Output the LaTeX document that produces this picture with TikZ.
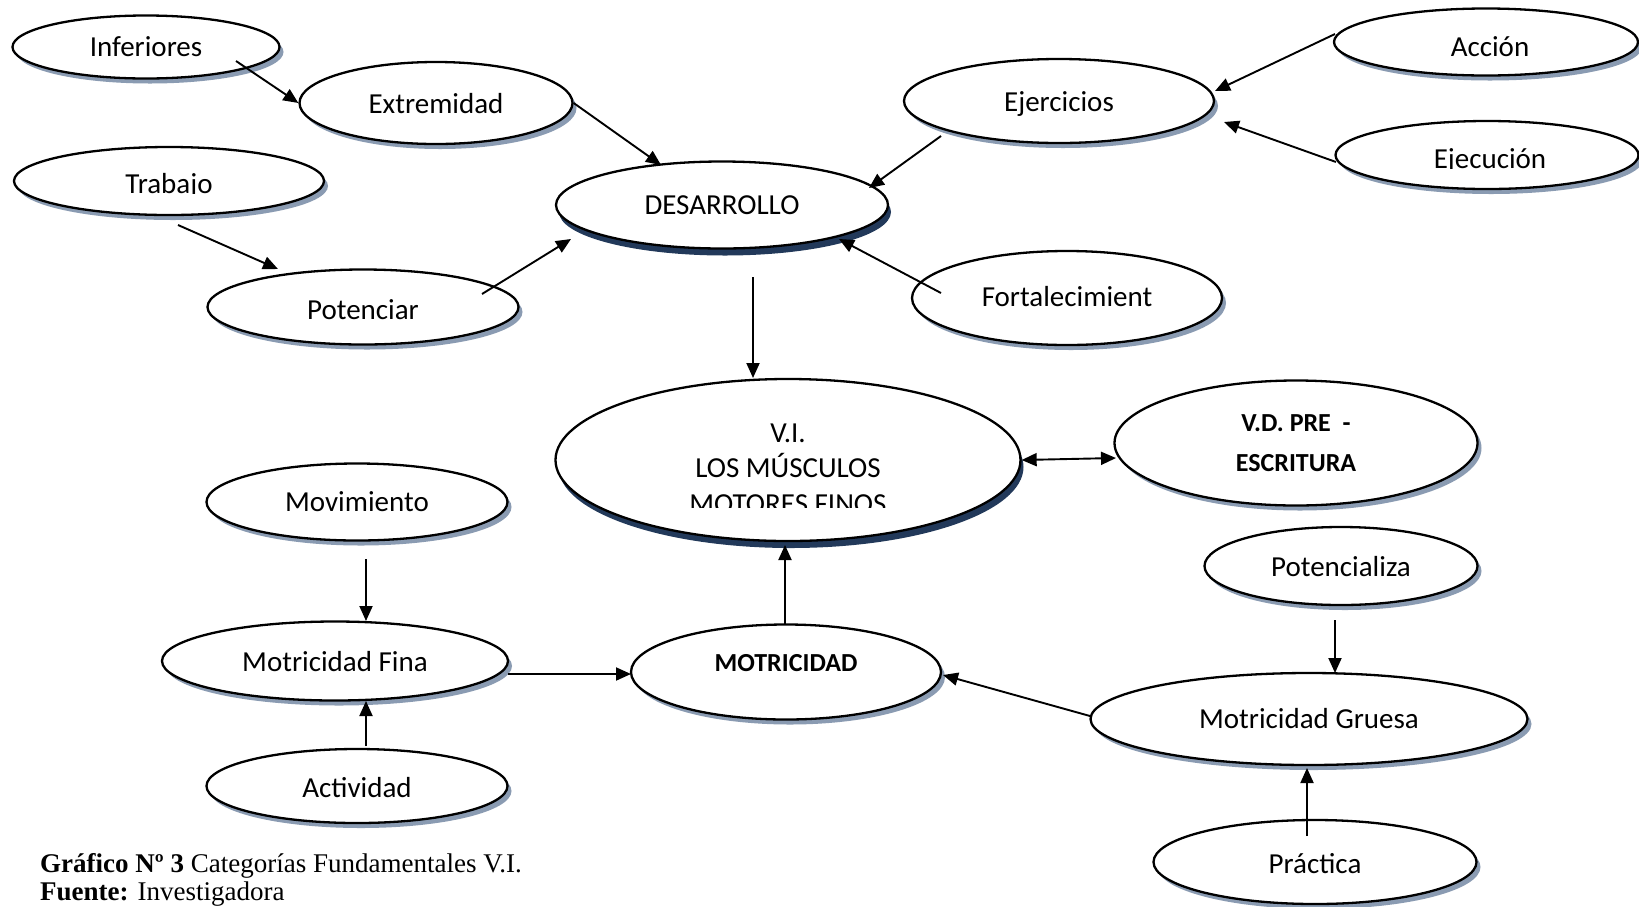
\documentclass[tikz,border=0pt]{standalone}
\usepackage{fontspec}
\setmainfont{Carlito}
\newfontfamily\capfont{Liberation Serif}
\usetikzlibrary{shapes.geometric,arrows.meta,shadows}
\definecolor{shadl}{HTML}{8A9BB2}
\definecolor{shadd}{HTML}{22395A}
\newcommand{\dn}[2]{\raisebox{-#1}[\height][\depth]{#2}}
\tikzset{
  ovbase/.style={ellipse, draw, line width=2.3pt, fill=white, inner sep=0pt,
    font=\fontsize{29}{35}\selectfont, align=center},
  oval/.style={ovbase, drop shadow={shadow xshift=4pt, shadow yshift=-5pt, fill=shadl, opacity=1}},
  ovald/.style={ovbase, drop shadow={shadow xshift=3pt, shadow yshift=-7pt, fill=shadd, opacity=1}},
  lbl/.style={font=\fontsize{29}{35}\selectfont, inner sep=0pt, anchor=base},
  blbl/.style={font=\fontsize{26}{38}\selectfont\bfseries, inner sep=0pt},
  arr/.style={line width=1.9pt, -{Triangle[length=15pt,width=13pt]}},
  darr/.style={line width=1.9pt, {Triangle[length=15pt,width=13pt]}-{Triangle[length=15pt,width=13pt]}},
  captxt/.style={font=\capfont\fontsize{27}{29}\selectfont, inner sep=0pt, anchor=base west}
}
\begin{document}
\begin{tikzpicture}[x=1pt,y=-1pt]
\useasboundingbox[fill=white] (0,0) rectangle (1639,906);

% nodes
\node[oval, minimum width=267pt, minimum height=63pt] (inf) at (146,47) {};
\node[oval, minimum width=273pt, minimum height=82pt] (ext) at (436,103) {\dn{1pt}{Extremidad}};
\node[oval, minimum width=310pt, minimum height=68pt] (trab) at (169,181) {};
\node[oval, minimum width=311pt, minimum height=75pt] (pot) at (363,307) {\dn{3pt}{Potenciar}};
\node[ovald, minimum width=332pt, minimum height=87pt] (des) at (722,205) {DESARROLLO};
\node[oval, minimum width=310pt, minimum height=84pt] (ej) at (1059,101) {\dn{3pt}{Ejercicios}};
\node[oval, minimum width=304pt, minimum height=67pt] (acc) at (1486,42) {};
\node[oval, minimum width=303pt, minimum height=68pt] (ejec) at (1487,155) {};
\node[oval, minimum width=310pt, minimum height=94pt] (fort) at (1067,298) {\dn{-1pt}{Fortalecimient}};
\node[ovald, minimum width=465pt, minimum height=162pt] (vi) at (788,460) {};
\node[oval, minimum width=363pt, minimum height=125pt] (vd) at (1296,443)
  {\bfseries\fontsize{26}{38}\selectfont V.D. PRE\ \ -\\[5pt]\bfseries\fontsize{26}{38}\selectfont ESCRITURA};
\node[oval, minimum width=301pt, minimum height=77pt] (mov) at (357,502) {Movimiento};
\node[oval, minimum width=346pt, minimum height=79pt] (mf) at (335,661) {\dn{1pt}{Motricidad Fina}};
\node[oval, minimum width=310pt, minimum height=95pt] (mot) at (786,672) {};
\node[oval, minimum width=273pt, minimum height=78pt] (potz) at (1341,566) {\dn{1pt}{Potencializa}};
\node[oval, minimum width=437pt, minimum height=92pt] (mg) at (1309,719) {Motricidad Gruesa};
\node[oval, minimum width=301pt, minimum height=74pt] (act) at (357,786) {\dn{2pt}{Actividad}};
\node[oval, minimum width=323pt, minimum height=84pt] (prac) at (1315,862) {\dn{2pt}{Práctica}};

% labels (some cut off at the baseline as in the picture)
\begin{scope}
  \clip (0,0) rectangle (1639,56.5);
  \node[lbl] (tinf) at (146,56) {Inferiores};
\end{scope}
\begin{scope}
  \clip (0,100) rectangle (1639,193.5);
  \node[lbl] (ttrab) at (169,193) {Trabajo};
\end{scope}
\node[lbl] (tacc) at (1490,56) {Acción};
\begin{scope}
  \clip (1300,100) rectangle (1639,168.5);
  \node[lbl] (tejec) at (1490,168) {Ejecución};
\end{scope}
\begin{scope}
  \clip (500,380) rectangle (1100,507);
  \node[lbl] (tvi1) at (788,442) {V.I.};
  \node[lbl] (tvi2) at (788,477) {LOS MÚSCULOS};
  \node[lbl] (tvi3) at (788,513) {MOTORES FINOS};
\end{scope}
\node[blbl] (tmot) at (786,663) {MOTRICIDAD};

% connectors
\draw[arr] ([shift={(90,14)}]inf.center) -- (ext.west);
\draw[arr] (ext.east) -- ([shift={(-61,-40)}]des.center);
\draw[arr] ([shift={(9,44)}]trab.center) -- ([shift={(-85,-38)}]pot.center);
\draw[arr] ([shift={(119,-13)}]pot.center) -- ([shift={(-151,34)}]des.center);
\draw[arr] ([shift={(-118,35)}]ej.center) -- ([shift={(147,-17)}]des.center);
\draw[arr] ([shift={(-151,-8)}]acc.center) -- ([shift={(156,-10)}]ej.center);
\draw[arr] ([shift={(-151,7)}]ejec.center) -- ([shift={(165,21)}]ej.center);
\draw[arr] ([shift={(-126,-5)}]fort.center) -- ([shift={(117,34)}]des.center);
\draw[arr] ([shift={(31,72)}]des.center) -- ([shift={(-35,-82)}]vi.center);
\draw[darr] (vi.east) -- ([shift={(-180,15)}]vd.center);
\draw[arr] ([shift={(9,57)}]mov.center) -- ([shift={(31,-40)}]mf.center);
\draw[arr] ([shift={(9,-40)}]act.center) -- ([shift={(31,40)}]mf.center);
\draw[arr] ([shift={(173,13)}]mf.center) -- ([shift={(-155,2)}]mot.center);
\draw[arr] ([shift={(-1,-48)}]mot.center) -- ([shift={(-3,85)}]vi.center);
\draw[arr] ([shift={(-219,-3)}]mg.center) -- ([shift={(157,3)}]mot.center);
\draw[arr] ([shift={(-6,54)}]potz.center) -- ([shift={(26,-46)}]mg.center);
\draw[arr] ([shift={(-8,-26)}]prac.center) -- ([shift={(-2,49)}]mg.center);

% caption
\node[captxt] (c1) at (40,872) {\textbf{Gráfico Nº 3} Categorías Fundamentales V.I.};
\node[captxt] (c2) at (40,900) {\textbf{Fuente:} Investigadora};
\end{tikzpicture}
\end{document}
